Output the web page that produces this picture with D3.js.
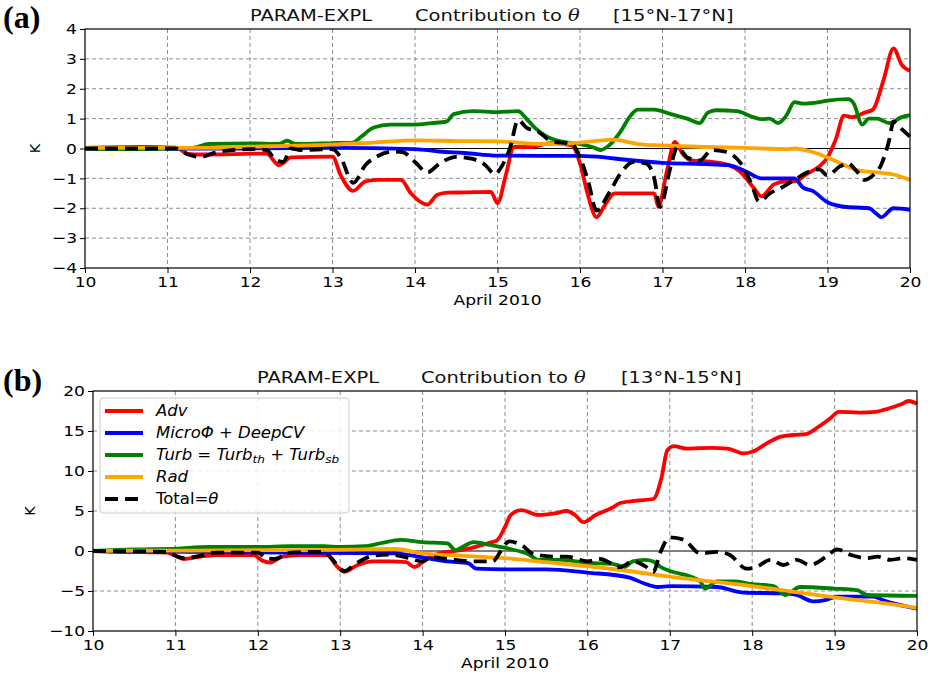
<!DOCTYPE html>
<html>
<head>
<meta charset="utf-8">
<script src="https://cdn.jsdelivr.net/npm/d3@7"></script>
<style>
  body { margin: 0; background: #fff; }
</style>
</head>
<body>
<div id="chart"></div>
<script>
// ---- panel (a) 15N-17N : [day of April, K]
const topAdv = [[10,0.02],[10.7,0.05],[11.1,0.03],[11.25,-0.18],[11.4,-0.2],[12.2,-0.17],[12.35,-0.56],[12.5,-0.3],[13.0,-0.27],[13.1,-0.9],[13.25,-1.42],[13.4,-1.1],[13.55,-1.05],[13.83,-1.05],[13.95,-1.5],[14.15,-1.88],[14.27,-1.55],[14.4,-1.48],[14.6,-1.47],[14.92,-1.45],[15.0,-1.83],[15.1,-0.9],[15.2,0.05],[15.4,0.05],[15.5,0.1],[15.65,0.18],[15.9,0.1],[16.0,-0.5],[16.1,-1.6],[16.2,-2.3],[16.3,-1.9],[16.42,-1.5],[16.9,-1.5],[16.95,-1.95],[17.05,-0.8],[17.15,0.22],[17.25,-0.2],[17.35,-0.4],[17.6,-0.45],[17.8,-0.55],[17.95,-0.8],[18.1,-1.3],[18.2,-1.6],[18.35,-1.2],[18.5,-1.1],[18.6,-1.1],[18.75,-0.85],[18.9,-0.6],[19.0,-0.3],[19.1,0.3],[19.2,1.1],[19.3,1.05],[19.45,1.2],[19.55,1.3],[19.68,2.3],[19.8,3.35],[19.9,2.8],[20.0,2.6]];
const topMicro = [[10,0],[12,0],[13,0.02],[14,-0.02],[14.3,-0.1],[14.6,-0.15],[15.0,-0.24],[16.0,-0.25],[16.3,-0.3],[16.5,-0.36],[17.0,-0.48],[17.5,-0.52],[17.8,-0.56],[18.0,-0.75],[18.2,-1.0],[18.6,-1.0],[18.7,-1.3],[18.82,-1.42],[19.0,-1.8],[19.2,-1.95],[19.5,-2.0],[19.6,-2.2],[19.65,-2.3],[19.8,-2.0],[20.0,-2.05]];
const topTurb = [[10,0],[10.5,-0.02],[11.0,0],[11.3,0.02],[11.5,0.15],[12.0,0.17],[12.35,0.15],[12.45,0.26],[12.55,0.15],[13.0,0.18],[13.25,0.2],[13.35,0.4],[13.5,0.7],[13.7,0.8],[14.0,0.8],[14.2,0.85],[14.38,0.9],[14.47,1.15],[14.7,1.25],[15.0,1.22],[15.25,1.25],[15.35,1.0],[15.45,0.7],[15.6,0.4],[15.85,0.2],[16.0,0.15],[16.15,0.05],[16.25,-0.05],[16.35,0.1],[16.5,0.6],[16.6,1.05],[16.7,1.3],[16.9,1.3],[17.1,1.15],[17.3,1.0],[17.45,0.85],[17.55,1.2],[17.65,1.28],[17.9,1.25],[18.1,1.05],[18.2,0.98],[18.3,1.0],[18.4,0.85],[18.5,1.1],[18.6,1.55],[18.7,1.5],[18.9,1.55],[19.0,1.6],[19.25,1.65],[19.32,1.5],[19.42,0.8],[19.5,1.0],[19.6,1.0],[19.75,0.85],[19.9,1.05],[20.0,1.12]];
const topRad = [[10,0.02],[11.2,0.02],[11.5,0.02],[12.0,0.06],[12.5,0.09],[13.0,0.13],[13.5,0.2],[14.0,0.27],[14.5,0.25],[15.0,0.24],[15.5,0.15],[16.0,0.2],[16.4,0.3],[16.7,0.15],[17.0,0.1],[17.5,0.05],[18.0,0.02],[18.5,-0.02],[18.6,0.0],[18.8,-0.1],[19.0,-0.3],[19.2,-0.55],[19.4,-0.75],[19.6,-0.8],[19.8,-0.87],[20.0,-1.05]];
const topTotal = [[10,0],[11.1,0],[11.25,-0.2],[11.4,-0.28],[11.6,-0.12],[11.8,-0.05],[12.0,-0.02],[12.2,-0.05],[12.3,-0.35],[12.4,-0.45],[12.5,0.0],[12.6,-0.05],[13.0,-0.02],[13.1,-0.3],[13.25,-1.15],[13.4,-0.55],[13.55,-0.25],[13.75,-0.1],[13.85,-0.12],[14.0,-0.45],[14.15,-0.8],[14.3,-0.5],[14.5,-0.28],[14.7,-0.35],[14.85,-0.55],[14.97,-0.86],[15.05,-0.6],[15.15,0.0],[15.25,0.95],[15.35,0.7],[15.5,0.55],[15.65,0.25],[15.9,0.15],[16.0,-0.3],[16.1,-1.1],[16.2,-2.08],[16.35,-1.5],[16.5,-0.8],[16.65,-0.45],[16.8,-0.5],[16.9,-1.0],[16.97,-1.95],[17.1,-0.6],[17.18,0.05],[17.3,-0.3],[17.45,-0.4],[17.6,-0.05],[17.75,-0.1],[17.95,-0.5],[18.08,-1.2],[18.17,-1.78],[18.3,-1.5],[18.45,-1.3],[18.6,-1.05],[18.75,-0.8],[18.9,-0.7],[19.0,-0.9],[19.15,-0.6],[19.25,-0.5],[19.35,-0.75],[19.45,-1.05],[19.55,-0.9],[19.65,-0.55],[19.75,0.3],[19.8,0.9],[19.9,0.65],[20.0,0.4]];

// ---- panel (b) 13N-15N
const botAdv = [[10,0],[10.25,-0.1],[10.9,-0.2],[11.0,-0.6],[11.1,-1.0],[11.3,-0.7],[11.5,-0.5],[11.95,-0.5],[12.05,-1.2],[12.15,-1.45],[12.3,-0.7],[12.5,-0.5],[12.85,-0.5],[12.95,-1.8],[13.05,-2.6],[13.2,-1.8],[13.4,-1.3],[13.6,-1.3],[13.8,-1.4],[13.9,-2.0],[14.05,-1.0],[14.2,-0.3],[14.4,0.0],[14.6,0.4],[14.8,1.0],[14.9,1.3],[15.0,3.0],[15.07,4.5],[15.2,5.1],[15.4,4.5],[15.6,4.7],[15.75,5.0],[15.85,4.5],[15.95,3.6],[16.1,4.5],[16.3,5.4],[16.4,6.0],[16.6,6.3],[16.8,6.5],[16.9,9.2],[16.97,12.6],[17.05,13.1],[17.2,12.8],[17.5,12.9],[17.7,12.8],[17.9,12.2],[18.0,12.4],[18.2,13.6],[18.35,14.3],[18.5,14.5],[18.65,14.6],[18.8,15.5],[18.95,16.6],[19.05,17.4],[19.3,17.3],[19.5,17.4],[19.65,17.8],[19.8,18.3],[19.9,18.75],[20.0,18.4]];
const botMicro = [[10,0],[13.66,-0.3],[14.0,-0.8],[14.3,-1.3],[14.55,-1.5],[14.65,-2.2],[15.0,-2.3],[15.5,-2.3],[16.0,-2.7],[16.5,-3.3],[16.7,-4.1],[16.85,-4.5],[17.0,-4.4],[17.57,-4.5],[17.9,-5.2],[18.38,-5.3],[18.54,-5.5],[18.74,-6.3],[18.9,-6.1],[19.03,-5.7],[19.47,-5.7],[19.6,-6.2],[20.0,-7.2]];
const botTurb = [[10,0],[10.5,0.2],[11.0,0.3],[11.4,0.5],[12.0,0.5],[12.4,0.6],[12.8,0.6],[13.0,0.5],[13.3,0.6],[13.5,1.0],[13.73,1.4],[14.0,1.1],[14.3,0.95],[14.4,0.1],[14.5,0.6],[14.62,1.1],[14.82,0.75],[15.02,0.35],[15.3,-0.5],[15.4,-1.1],[15.7,-1.1],[16.0,-1.5],[16.3,-1.6],[16.45,-2.0],[16.55,-1.3],[16.7,-1.1],[16.8,-1.3],[16.89,-2.0],[17.0,-2.5],[17.25,-3.2],[17.37,-3.8],[17.43,-4.7],[17.57,-3.8],[17.78,-3.8],[17.98,-4.1],[18.26,-4.4],[18.4,-5.5],[18.58,-4.5],[19.0,-4.7],[19.27,-4.9],[19.4,-5.5],[20.0,-5.6]];
const botRad = [[10,0],[10.5,0.05],[11.0,0.05],[12.0,0.1],[13.0,0.15],[13.66,0.25],[14.0,-0.3],[14.5,-0.6],[15.0,-0.9],[15.5,-1.4],[16.0,-1.9],[16.5,-2.5],[17.0,-3.2],[17.5,-3.8],[18.0,-4.4],[18.5,-5.1],[19.0,-5.8],[19.5,-6.4],[20.0,-7.1]];
const botTotal = [[10,0],[10.9,-0.1],[11.0,-0.6],[11.1,-0.9],[11.3,-0.6],[11.5,-0.2],[12.0,-0.2],[12.1,-0.9],[12.2,-1.0],[12.4,-0.2],[12.8,-0.1],[12.9,-1.0],[13.05,-2.5],[13.2,-1.5],[13.4,-0.6],[13.6,-0.45],[13.8,-0.8],[14.0,-1.3],[14.1,-0.8],[14.3,-1.0],[14.6,-1.3],[14.85,-1.3],[14.95,0.0],[15.05,1.2],[15.2,0.75],[15.35,-0.4],[15.6,-0.7],[15.75,-0.7],[16.0,-1.3],[16.15,-1.0],[16.4,-2.0],[16.55,-1.3],[16.7,-1.9],[16.8,-2.6],[16.88,-0.3],[17.0,1.7],[17.17,1.4],[17.37,-0.3],[17.57,-0.1],[17.73,-0.5],[17.93,-2.2],[18.05,-2.0],[18.22,-1.1],[18.38,-1.75],[18.54,-1.1],[18.7,-1.75],[18.9,-0.7],[19.03,0.2],[19.2,-0.5],[19.4,-0.9],[19.52,-0.7],[19.68,-1.1],[19.84,-0.9],[20.0,-1.1]];

const xTicks = [10, 11, 12, 13, 14, 15, 16, 17, 18, 19, 20];
const topYTicks = [-4, -3, -2, -1, 0, 1, 2, 3, 4];
const botYTicks = [-10, -5, 0, 5, 10, 15, 20];

const seriesNames = ["Adv", "Micro", "Turb", "Rad", "Total"];
const seriesColors = {Adv: "#ff0000", Micro: "#0000ff", Turb: "#008000", Rad: "#ffa500", Total: "#000000"};

const W = 930, H = 678;
const SX = 1.18; // the figure text looks stretched sideways
const SANS = "DejaVu Sans";
const svg = d3.select("#chart").append("svg").attr("width", W).attr("height", H)
  .style("font-family", SANS);

function drawPanel(cfg) {
  const x = d3.scaleLinear().domain([10, 20]).range([cfg.left, cfg.right]);
  const y = d3.scaleLinear().domain(cfg.yDomain).range([cfg.bottom, cfg.top]);
  const g = svg.append("g");

  // grid
  g.append("g").selectAll("line").data(xTicks.slice(1, -1)).join("line")
    .attr("x1", d => x(d)).attr("x2", d => x(d)).attr("y1", cfg.top).attr("y2", cfg.bottom)
    .attr("stroke", "#8c8c8c").attr("stroke-width", 1).attr("stroke-dasharray", "4,3");
  g.append("g").selectAll("line").data(cfg.yTicks.slice(1, -1).filter(d => d !== 0)).join("line")
    .attr("x1", cfg.left).attr("x2", cfg.right).attr("y1", d => y(d)).attr("y2", d => y(d))
    .attr("stroke", "#8c8c8c").attr("stroke-width", 1).attr("stroke-dasharray", "4,3");
  // zero line
  g.append("line").attr("x1", cfg.left).attr("x2", cfg.right).attr("y1", y(0)).attr("y2", y(0))
    .attr("stroke", "#000").attr("stroke-width", 1);

  // curves
  const line = d3.line().x(d => x(d[0])).y(d => y(d[1])).curve(d3.curveMonotoneX);
  seriesNames.forEach(name => {
    g.append("path").datum(cfg.data[name])
      .attr("d", line).attr("fill", "none")
      .attr("stroke", seriesColors[name]).attr("stroke-width", 3.8)
      .attr("stroke-linejoin", "round")
      .attr("stroke-dasharray", name === "Total" ? "13,7" : null);
  });

  // axes
  const xAxis = d3.axisBottom(x).tickValues(xTicks).tickSize(5).tickPadding(4).tickFormat(d3.format("d"));
  const yAxis = d3.axisLeft(y).tickValues(cfg.yTicks).tickSize(5).tickPadding(3)
    .tickFormat(d => d < 0 ? "\u2212" + Math.abs(d) : d);
  const gx = g.append("g").attr("transform", `translate(0,${cfg.bottom})`).call(xAxis);
  const gy = g.append("g").attr("transform", `translate(${cfg.left},0)`).call(yAxis);
  [gx, gy].forEach(a => {
    a.select(".domain").remove();
    a.attr("font-family", null).attr("font-size", null);
    a.selectAll("text").style("font-size", "14.5px").style("font-family", SANS).attr("fill", "#000")
      .attr("transform", `scale(${SX},1)`);
    a.selectAll("line").attr("stroke", "#000");
  });
  gy.selectAll("text").attr("x", -8 / SX);
  // frame
  g.append("rect").attr("x", cfg.left).attr("y", cfg.top)
    .attr("width", cfg.right - cfg.left).attr("height", cfg.bottom - cfg.top)
    .attr("fill", "none").attr("stroke", "#000").attr("stroke-width", 1.2);

  // title (three pieces as in the original)
  const ty = cfg.top - 8;
  const piece = (px) => g.append("text").attr("transform", `translate(${px},${ty}) scale(1.22,1)`)
    .style("font-size", "16px").attr("fill", "#111");
  piece(cfg.titleX[0]).text("PARAM-EXPL");
  const t2 = piece(cfg.titleX[1]);
  t2.append("tspan").text("Contribution to ");
  t2.append("tspan").style("font-style", "italic").style("font-family", "DejaVu Serif").text("\u03B8");
  piece(cfg.titleX[2]).text(cfg.region);

  // axis labels
  g.append("text").attr("transform", `translate(${(cfg.left + cfg.right) / 2},${cfg.bottom + 37}) scale(${SX},1)`)
    .attr("text-anchor", "middle").style("font-size", "14.5px").text("April 2010");
  g.append("text").attr("transform", `translate(${cfg.kX},${(cfg.top + cfg.bottom) / 2}) rotate(-90)`)
    .attr("text-anchor", "middle").style("font-size", "14.5px").text("K");

  // panel letter
  svg.append("text").attr("x", 3).attr("y", cfg.letterY)
    .style("font-family", "Liberation Serif").style("font-weight", "bold").style("font-size", "32px")
    .text(cfg.letter);
  return {x, y, g};
}

drawPanel({
  left: 85, right: 910, top: 29, bottom: 268, yDomain: [-4, 4], yTicks: topYTicks, kX: 40,
  titleX: [250, 415, 613], region: "[15\u00B0N-17\u00B0N]", letter: "(a)", letterY: 28,
  data: {Adv: topAdv, Micro: topMicro, Turb: topTurb, Rad: topRad, Total: topTotal}
});

drawPanel({
  left: 93, right: 917, top: 391, bottom: 631, yDomain: [-10, 20], yTicks: botYTicks, kX: 35,
  titleX: [257, 421, 621], region: "[13\u00B0N-15\u00B0N]", letter: "(b)", letterY: 391,
  data: {Adv: botAdv, Micro: botMicro, Turb: botTurb, Rad: botRad, Total: botTotal}
});

// legend (panel b)
const legendLabels = [
  {name: "Adv", parts: [["Adv", "i"]]},
  {name: "Micro", parts: [["Micro\u03A6 + DeepCV", "i"]]},
  {name: "Turb", parts: [["Turb = Turb", "i"], ["th", "sub"], [" + Turb", "up"], ["sb", "sub"]]},
  {name: "Rad", parts: [["Rad", "i"]]},
  {name: "Total", parts: [["Total=", "n"], ["\u03B8", "i"]]}
];
const lg = svg.append("g");
lg.append("rect").attr("x", 100).attr("y", 398).attr("width", 249).attr("height", 115).attr("rx", 3)
  .attr("fill", "#fff").attr("fill-opacity", 0.85).attr("stroke", "#cccccc");
legendLabels.forEach((d, i) => {
  const yy = 411 + i * 22;
  lg.append("line").attr("x1", 105).attr("x2", 143).attr("y1", yy).attr("y2", yy)
    .attr("stroke", seriesColors[d.name]).attr("stroke-width", 3.8)
    .attr("stroke-dasharray", d.name === "Total" ? "13,7" : null);
  const tx = lg.append("text").attr("transform", `translate(156,${yy + 5}) scale(1.1,1)`)
    .style("font-size", "15px");
  d.parts.forEach(p => {
    const s = tx.append("tspan").text(p[0]);
    if (p[1] === "i") s.style("font-style", "italic");
    if (p[1] === "sub") s.style("font-style", "italic").style("font-size", "11px").attr("dy", 3);
    if (p[1] === "up") s.style("font-style", "italic").attr("dy", -3);
  });
});
</script>
</body>
</html>
